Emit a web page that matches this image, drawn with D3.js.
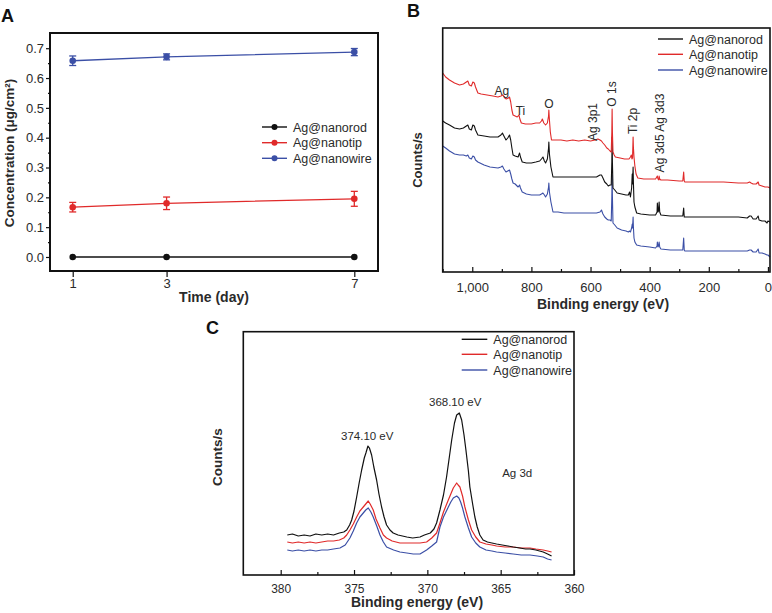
<!DOCTYPE html>
<html><head><meta charset="utf-8">
<script src="https://cdn.jsdelivr.net/npm/d3@7"></script>
<style>body{margin:0;background:#fff}svg{display:block}</style>
</head><body><svg id="c" width="772" height="613"></svg>
<script>
// ---------- DATA ----------
const seriesNames = ["Ag@nanorod", "Ag@nanotip", "Ag@nanowire"];
const seriesColors = ["#111111", "#e02a2a", "#3b4fa6"];

// Panel A
const daysA = [1, 3, 7];
const concNanorod = [0, 0, 0];
const concNanotip = [0.167, 0.180, 0.195];
const concNanowire = [0.658, 0.671, 0.687];
const errNanorod = [0, 0, 0];
const errNanotip = [0.016, 0.021, 0.025];
const errNanowire = [0.016, 0.010, 0.012];
const yTicksA = [0, 0.1, 0.2, 0.3, 0.4, 0.5, 0.6, 0.7];
const yMinorA = [0.05, 0.15, 0.25, 0.35, 0.45, 0.55, 0.65];

// Panel B (survey spectra, [binding energy eV, counts a.u.])
const xTicksB = [1000, 800, 600, 400, 200, 0];
const xMinorB = [1100, 900, 700, 500, 300, 100];
const surveyNanotip = [[1100,199],[1090,195],[1077,192],[1060,189],[1043,187],[1030,188],[1020,190],[1015,191],[1010,187],[1003,186],[998,190],[993,189],[989,185],[981,179],[970,178],[950,177],[930,176],[913,175],[903,176],[896,177],[890,174],[885,173],[878,174],[874,175],[870,170],[866,162],[862,157],[855,156],[848,155],[842,157],[839,153],[834,149],[820,148],[800,148],[785,149],[772,149],[766,151],[763,153],[758,149],[752,147],[746,149],[742,156],[741,162],[739,152],[736,140],[732,132],[720,132],[700,132],[680,131],[660,132],[640,131],[620,132],[600,131],[585,132],[575,133],[568,132],[563,131],[558,129],[552,127],[545,124],[540,123],[534,121],[530,120],[528,140],[527,163],[526,140],[524,120],[520,117],[516,115],[500,114],[485,113],[470,113],[465,115],[462,117],[460,113],[458,114],[456,135],[455,125],[453,115],[450,106],[446,98],[440,94],[420,93],[400,93],[380,93],[374,96],[372,93],[369,92],[368,96],[366,93],[362,92],[340,92],[300,91],[288,91],[285,100],[283,91],[281,90],[250,90],[200,90],[150,90],[100,89],[70,89],[62,90],[57,89],[50,88],[40,88],[33,90],[30,87],[20,86],[10,85],[0,85],[-7,84]];
const surveyNanorod = [[1100,151],[1090,149],[1077,147],[1060,144],[1043,143],[1030,144],[1020,146],[1015,147],[1010,143],[1003,142],[998,147],[993,146],[989,142],[981,137],[960,136],[940,135],[913,135],[903,137],[898,139],[893,136],[886,132],[880,134],[874,137],[870,132],[866,124],[862,117],[855,116],[845,115],[840,119],[837,115],[831,110],[817,109],[800,109],[785,110],[772,111],[766,113],[761,115],[756,111],[752,109],[746,113],[742,124],[741,130],[739,118],[734,105],[727,95],[710,95],[690,95],[660,95],[640,95],[620,95],[600,95],[580,95],[568,97],[563,97],[558,94],[552,90],[545,88],[540,86],[534,87],[530,87],[528,110],[527,135],[526,110],[524,84],[518,82],[510,79],[495,78],[480,77],[472,77],[468,80],[465,75],[461,84],[459,98],[458,88],[456,105],[455,90],[453,70],[450,65],[444,59],[430,58],[400,57],[380,57],[375,60],[374,69],[372,60],[370,61],[368,70],[366,60],[362,57],[330,56],[300,56],[288,56],[285,64],[283,55],[281,55],[250,55],[200,55],[150,55],[100,55],[70,54],[62,56],[57,56],[50,53],[40,53],[33,56],[30,52],[20,51],[10,51],[3,49],[0,51],[-7,50]];
const surveyNanowire = [[1100,126],[1090,124],[1077,121],[1060,118],[1043,117],[1030,117],[1020,116],[1015,117],[1010,114],[1003,113],[998,116],[993,115],[989,112],[981,110],[960,107],[940,105],[913,104],[903,105],[898,106],[893,103],[886,100],[880,101],[874,102],[870,98],[866,93],[862,89],[855,88],[845,85],[840,87],[837,84],[831,80],[817,78],[800,77],[785,77],[772,77],[766,78],[761,79],[756,77],[752,75],[746,78],[742,85],[741,89],[739,80],[734,70],[727,60],[710,60],[690,59],[660,59],[640,59],[620,59],[600,59],[580,59],[568,60],[563,62],[558,58],[552,55],[545,53],[540,52],[534,52],[530,51],[528,75],[527,97],[526,75],[524,49],[518,47],[510,44],[495,42],[480,41],[472,40],[468,41],[465,40],[461,44],[459,48],[458,44],[456,55],[455,45],[453,34],[450,30],[444,27],[430,26],[400,25],[380,24],[375,26],[374,30],[372,25],[370,26],[368,30],[366,25],[362,23],[330,22],[300,22],[288,22],[285,34],[283,22],[281,21],[250,21],[200,21],[150,21],[100,21],[70,21],[62,22],[57,22],[50,20],[40,20],[33,23],[30,19],[20,19],[10,18],[3,17],[0,17],[-7,15]];
const annotB = [
  {t:"Ag", e:900, v:181, rot:false},
  {t:"Ti", e:837, v:161, rot:false},
  {t:"O", e:741, v:168, rot:false},
  {t:"Ag 3p1", e:594, v:150, rot:true},
  {t:"O 1s", e:528, v:178, rot:true},
  {t:"Ti 2p", e:458, v:151, rot:true},
  {t:"Ag 3d5 Ag 3d3", e:366, v:139, rot:true}
];

// Panel C (Ag 3d high resolution)
const xTicksC = [380, 375, 370, 365, 360];
const xMinorC = [377.5, 372.5, 367.5, 362.5];
const ag3dNanorod = [[379.55,40],[379.2,41],[378.8,39],[378.4,40],[378.0,39],[377.6,41],[377.2,40],[376.8,41],[376.4,40],[376.0,42],[375.7,43],[375.5,45],[375.3,50],[375.16,55],[375.0,64],[374.82,78],[374.65,92],[374.48,105],[374.3,117],[374.19,122],[374.05,129],[373.95,127],[373.8,120],[373.65,108],[373.46,95],[373.3,81],[373.12,68],[372.95,58],[372.78,50],[372.55,45],[372.33,42],[372.0,40],[371.7,39],[371.4,38],[371.0,37],[370.5,38],[370.2,40],[369.8,42],[369.55,46],[369.37,52],[369.14,65],[368.9,80],[368.69,98],[368.5,118],[368.34,135],[368.15,152],[368.0,160],[367.82,162],[367.66,155],[367.5,140],[367.37,125],[367.2,104],[367.1,88],[366.9,70],[366.76,58],[366.6,48],[366.42,40],[366.2,35],[365.9,33],[365.6,32],[365.28,31],[364.9,30],[364.5,29],[364.15,28],[363.7,27],[363.3,26],[363.0,26],[362.6,25],[362.1,23],[361.8,21],[361.53,19]];
const ag3dNanotip = [[379.55,33],[379.2,32],[378.8,33],[378.4,32],[378.0,33],[377.6,32],[377.2,33],[376.8,34],[376.4,34],[376.0,35],[375.7,37],[375.5,40],[375.28,45],[375.05,51],[374.82,58],[374.6,64],[374.37,68],[374.2,71],[374.03,74],[373.9,71],[373.69,65],[373.5,56],[373.23,47],[373.0,40],[372.78,37],[372.4,34],[371.87,32],[371.4,32],[370.96,32],[370.5,32],[370.05,33],[369.7,37],[369.37,42],[369.14,52],[368.9,63],[368.57,75],[368.4,81],[368.23,87],[368.0,92],[367.9,90],[367.78,88],[367.6,79],[367.44,68],[367.2,55],[366.98,45],[366.7,38],[366.42,33],[366.0,31],[365.6,30],[365.28,29],[364.7,28],[364.15,28],[363.6,27],[363.0,27],[362.6,26],[362.1,25],[361.8,24],[361.53,23]];
const ag3dNanowire = [[379.55,25],[379.2,24],[378.8,25],[378.4,24],[378.0,25],[377.6,24],[377.2,25],[376.8,25],[376.4,26],[375.96,27],[375.6,30],[375.28,37],[375.05,44],[374.82,52],[374.6,58],[374.37,62],[374.2,65],[374.03,67],[373.85,63],[373.69,58],[373.45,49],[373.23,40],[373.0,33],[372.78,28],[372.3,25],[371.87,23],[371.4,22],[370.96,21],[370.5,21],[370.05,25],[369.7,29],[369.37,33],[369.14,48],[368.9,58],[368.57,68],[368.4,73],[368.23,77],[368.0,79],[367.85,77],[367.73,73],[367.6,67],[367.44,58],[367.2,47],[366.98,38],[366.7,32],[366.42,28],[366.0,25],[365.6,24],[365.28,23],[364.7,22],[364.15,21],[363.6,20],[363.0,20],[362.5,19],[362.1,18],[361.8,16],[361.53,15]];
const annotC = [
  {t:"374.10 eV", e:374.1, v:135},
  {t:"368.10 eV", e:368.1, v:169},
  {t:"Ag 3d", e:364.9, v:98, anchor:"start"}
];

// ---------- DRAW ----------
const FONT = "'Liberation Sans', Arial, Helvetica, sans-serif";
const svg = d3.select("#c").style("font-family", FONT);
svg.append("rect").attr("width", 772).attr("height", 613).attr("fill", "#fff");
const txt = "#2a2a2a";

function styleAxis(g, size) {
  g.select(".domain").remove();
  g.selectAll(".tick line").attr("stroke", "#111").attr("stroke-width", 1.2);
  g.selectAll(".tick text").attr("fill", txt).style("font-size", size + "px").style("font-family", FONT);
}
function panelLabel(t, x, y) {
  svg.append("text").attr("x", x).attr("y", y).text(t)
    .style("font-size", "18px").style("font-weight", "bold").attr("fill", "#111");
}
function legend(x1, x2, tx, ys, withMarker) {
  seriesNames.forEach((n, i) => {
    svg.append("line").attr("x1", x1).attr("x2", x2).attr("y1", ys[i]).attr("y2", ys[i])
      .attr("stroke", seriesColors[i]).attr("stroke-width", 1.4);
    if (withMarker) svg.append("circle").attr("cx", (x1 + x2) / 2).attr("cy", ys[i]).attr("r", 3)
      .attr("fill", seriesColors[i]);
    svg.append("text").attr("x", tx).attr("y", ys[i]).attr("dy", "0.36em").text(n)
      .style("font-size", "12.5px").attr("fill", txt);
  });
}

// ===== Panel A =====
const xA = d3.scaleLinear().domain([0.516, 7.505]).range([50, 378]);
const yA = d3.scaleLinear().domain([-0.047, 0.751]).range([271, 33]);
panelLabel("A", 1, 22);
const gA = svg.append("g");
styleAxis(gA.append("g").attr("transform", "translate(50,0)")
  .call(d3.axisLeft(yA).tickValues(yTicksA).tickSize(4).tickPadding(2).tickFormat(d3.format(".1f"))), 13);
styleAxis(gA.append("g").attr("transform", "translate(50,0)")
  .call(d3.axisLeft(yA).tickValues(yMinorA).tickSize(2).tickFormat("")), 13);
styleAxis(gA.append("g").attr("transform", "translate(0,271)")
  .call(d3.axisBottom(xA).tickValues(daysA).tickSize(6).tickPadding(2).tickFormat(d3.format("d"))), 13);
const concA = [concNanorod, concNanotip, concNanowire];
const errA = [errNanorod, errNanotip, errNanowire];
const lineA = d3.line().x(d => xA(d[0])).y(d => yA(d[1]));
concA.forEach((vals, i) => {
  const pts = daysA.map((d, j) => [d, vals[j], errA[i][j]]);
  gA.append("path").attr("d", lineA(pts)).attr("fill", "none")
    .attr("stroke", seriesColors[i]).attr("stroke-width", 1.3);
  pts.forEach(p => {
    if (p[2] > 0) {
      const x = xA(p[0]), y1 = yA(p[1] - p[2]), y2 = yA(p[1] + p[2]);
      const eb = gA.append("g").attr("stroke", seriesColors[i]).attr("stroke-width", 1.3);
      eb.append("line").attr("x1", x).attr("x2", x).attr("y1", y1).attr("y2", y2);
      eb.append("line").attr("x1", x - 3.5).attr("x2", x + 3.5).attr("y1", y1).attr("y2", y1);
      eb.append("line").attr("x1", x - 3.5).attr("x2", x + 3.5).attr("y1", y2).attr("y2", y2);
    }
    gA.append("circle").attr("cx", xA(p[0])).attr("cy", yA(p[1])).attr("r", 3.3)
      .attr("fill", seriesColors[i]);
  });
});
gA.append("rect").attr("x", 50).attr("y", 33).attr("width", 328).attr("height", 238)
  .attr("fill", "none").attr("stroke", "#111").attr("stroke-width", 2);
legend(262, 287, 293, [127, 142.7, 158.3], true);
svg.append("text").attr("x", 214).attr("y", 302).attr("text-anchor", "middle").text("Time (day)")
  .style("font-size", "14px").style("font-weight", "bold").attr("fill", txt);
svg.append("text").attr("transform", "translate(9,153) rotate(-90)").attr("dy", "0.36em")
  .attr("text-anchor", "middle").text("Concentration (μg/cm²)")
  .style("font-size", "13.5px").style("font-weight", "bold").attr("fill", txt);

// ===== Panel B =====
const xB = d3.scaleLinear().domain([1100, -7]).range([442.7, 770]);
const yB = d3.scaleLinear().domain([0, 244]).range([272, 28]);
panelLabel("B", 407, 17);
const gB = svg.append("g");
styleAxis(gB.append("g").attr("transform", "translate(0,272)")
  .call(d3.axisBottom(xB).tickValues(xTicksB).tickSize(-5).tickPadding(11).tickFormat(d3.format(","))), 13);
styleAxis(gB.append("g").attr("transform", "translate(0,272)")
  .call(d3.axisBottom(xB).tickValues(xMinorB).tickSize(-3).tickFormat("")), 13);
const lineB = d3.line().x(d => xB(d[0])).y(d => yB(d[1]));
const surveys = [surveyNanorod, surveyNanotip, surveyNanowire];
[2, 0, 1].forEach(i => {
  gB.append("path").attr("d", lineB(surveys[i])).attr("fill", "none")
    .attr("stroke", seriesColors[i]).attr("stroke-width", 1.1).attr("stroke-linejoin", "round");
});
annotB.forEach(a => {
  const t = svg.append("text").text(a.t).style("font-size", "12px").attr("fill", txt)
    .attr("text-anchor", "middle").attr("dy", "0.36em");
  if (a.rot) t.attr("transform", `translate(${xB(a.e)},${yB(a.v)}) rotate(-90)`);
  else t.attr("x", xB(a.e)).attr("y", yB(a.v));
});
gB.append("rect").attr("x", 442.7).attr("y", 28).attr("width", 327.3).attr("height", 244)
  .attr("fill", "none").attr("stroke", "#111").attr("stroke-width", 1.6);
legend(658, 683, 689, [39, 54.3, 70], false);
svg.append("text").attr("x", 603).attr("y", 309).attr("text-anchor", "middle").text("Binding energy (eV)")
  .style("font-size", "14px").style("font-weight", "bold").attr("fill", txt);
svg.append("text").attr("transform", "translate(417,160) rotate(-90)").attr("dy", "0.36em")
  .attr("text-anchor", "middle").text("Counts/s")
  .style("font-size", "13px").style("font-weight", "bold").attr("fill", txt);

// ===== Panel C =====
const xC = d3.scaleLinear().domain([382.55, 360]).range([243.3, 574]);
const yC = d3.scaleLinear().domain([0, 243.3]).range([575, 331.7]);
panelLabel("C", 206, 334);
const gC = svg.append("g");
styleAxis(gC.append("g").attr("transform", "translate(0,575)")
  .call(d3.axisBottom(xC).tickValues(xTicksC).tickSize(-5).tickPadding(9).tickFormat(d3.format("d"))), 12);
styleAxis(gC.append("g").attr("transform", "translate(0,575)")
  .call(d3.axisBottom(xC).tickValues(xMinorC).tickSize(-3).tickFormat("")), 12);
const lineC = d3.line().x(d => xC(d[0])).y(d => yC(d[1]));
const ag3d = [ag3dNanorod, ag3dNanotip, ag3dNanowire];
[2, 1, 0].forEach(i => {
  gC.append("path").attr("d", lineC(ag3d[i])).attr("fill", "none")
    .attr("stroke", seriesColors[i]).attr("stroke-width", 1.2).attr("stroke-linejoin", "round");
});
annotC.forEach(a => {
  svg.append("text").attr("x", xC(a.e)).attr("y", yC(a.v)).text(a.t)
    .attr("text-anchor", a.anchor || "middle").style("font-size", "11.5px").attr("fill", txt);
});
gC.append("rect").attr("x", 243.3).attr("y", 331.7).attr("width", 330.7).attr("height", 243.3)
  .attr("fill", "none").attr("stroke", "#111").attr("stroke-width", 1.6);
legend(461.7, 487.3, 493.3, [339.3, 354.3, 370], false);
svg.append("text").attr("x", 417).attr("y", 607).attr("text-anchor", "middle").text("Binding energy (eV)")
  .style("font-size", "14px").style("font-weight", "bold").attr("fill", txt);
svg.append("text").attr("transform", "translate(217,457) rotate(-90)").attr("dy", "0.36em")
  .attr("text-anchor", "middle").text("Counts/s")
  .style("font-size", "13.5px").style("font-weight", "bold").attr("fill", txt);
</script></body></html>
